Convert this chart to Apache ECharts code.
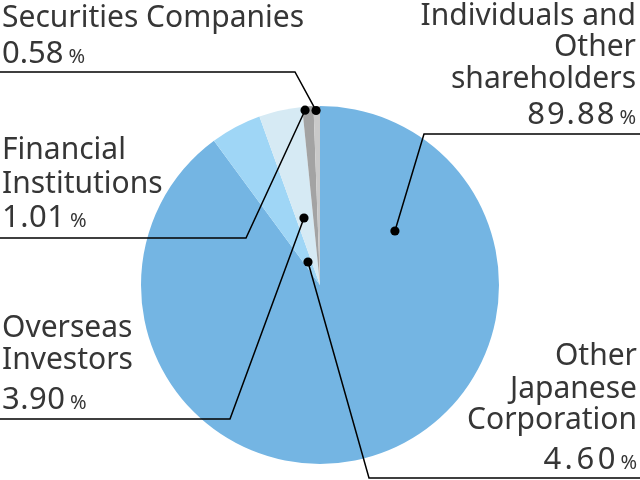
<!DOCTYPE html>
<html><head><meta charset="utf-8">
<script src="https://cdn.jsdelivr.net/npm/echarts@6/dist/echarts.min.js"></script>
<style>html,body{margin:0;padding:0;background:#fff}#c{width:640px;height:480px}</style>
</head><body><div id="c"></div>
<script>
// ---- data ----
const categories = ['Individuals and Other shareholders', 'Other Japanese Corporation', 'Overseas Investors', 'Financial Institutions', 'Securities Companies'];
const shares = [89.88, 4.60, 3.90, 1.01, 0.58];
const labelLines = [['Individuals and', 'Other', 'shareholders'], ['Other', 'Japanese', 'Corporation'], ['Overseas', 'Investors'], ['Financial', 'Institutions'], ['Securities Companies']];
const valueLabels = ['89.88', '4.60', '3.90', '1.01', '0.58'];

// ---- styles ----
const sliceColors = ['#74b5e3', '#9fd6f6', '#d6eaf4', '#a3a3a3', '#c9c9c9'];
const CX = 320, CY = 285, R = 179;
const FONT_FAMILY = '"Noto Sans", "Open Sans", sans-serif';
const NAME_SIZE = 30, NUM_SIZE = 31, PCT_SIZE = 20, TEXT_COLOR = '#363636';
const MID = 0.30;
// annotation layout (per category, same order)
const ann = [
  { side: 'right', knee: [424, 134], endX: 640, angFrac: 0.1675, rFrac: 0.516, textX: 636, baselines: [25, 56, 88], numBaseline: 124, ls: 2 },
  { side: 'right', knee: [369, 478], endX: 640, angFrac: 0.53, rFrac: 0.145, textX: 637, baselines: [365, 398, 429], numBaseline: 469, ls: 3.5 },
  { side: 'left', knee: [230, 419], endX: 0, angFrac: 0.45, rFrac: 0.385, textX: 2, baselines: [337, 369], numBaseline: 409, ls: 0.5 },
  { side: 'left', knee: [246, 238], endX: 0, angFrac: 0.23, rFrac: 0.98, textX: 2, baselines: [159, 193], numBaseline: 227, ls: 0.5 },
  { side: 'left', knee: [295, 72], endX: 0, angFrac: 0.38, rFrac: 0.975, textX: 2, baselines: [27], numBaseline: 63, ls: 0 }
];

const chart = echarts.init(document.getElementById('c'), null, { renderer: 'canvas' });
chart.setOption({
  animation: false,
  backgroundColor: '#ffffff',
  series: [{
    type: 'pie',
    center: [CX, CY],
    radius: R,
    startAngle: 90,
    clockwise: true,
    avoidLabelOverlap: false,
    silent: true,
    label: { show: false },
    labelLine: { show: false },
    itemStyle: { borderWidth: 0 },
    emphasis: { disabled: true },
    data: categories.map((n, i) => ({ name: n, value: shares[i], itemStyle: { color: sliceColors[i] } }))
  }]
});

// measure helper
const mctx = document.createElement('canvas').getContext('2d');
function textW(t, size) { mctx.font = size + 'px ' + FONT_FAMILY; return mctx.measureText(t).width; }

function sliceLayout(i) {
  try {
    const l = chart.getModel().getSeriesByIndex(0).getData().getItemLayout(i);
    if (l && isFinite(l.startAngle)) return l;
  } catch (e) {}
  const sum = shares.reduce((a, b) => a + b, 0);
  let s = -Math.PI / 2;
  for (let k = 0; k < i; k++) s += shares[k] / sum * Math.PI * 2;
  return { cx: CX, cy: CY, r: R, startAngle: s, endAngle: s + shares[i] / sum * Math.PI * 2 };
}

const els = [];
ann.forEach((a, i) => {
  const l = sliceLayout(i);
  const ang = l.startAngle + (l.endAngle - l.startAngle) * a.angFrac;
  const dot = [l.cx + l.r * a.rFrac * Math.cos(ang), l.cy + l.r * a.rFrac * Math.sin(ang)];
  els.push({ type: 'polyline', z: 10, shape: { points: [[a.endX, a.knee[1]], a.knee, dot] }, style: { stroke: '#000', lineWidth: 1.5, fill: null } });
  els.push({ type: 'circle', z: 11, shape: { cx: dot[0], cy: dot[1], r: 4.6 }, style: { fill: '#000' } });
  labelLines[i].forEach((t, j) => {
    els.push({ type: 'text', z: 12, style: { text: t, x: a.textX, y: a.baselines[j] - NAME_SIZE * MID, font: NAME_SIZE + 'px ' + FONT_FAMILY, fill: TEXT_COLOR, align: a.side === 'right' ? 'right' : 'left', verticalAlign: 'middle' } });
  });
  // number + percent
  const num = valueLabels[i];
  const chars = num.split('');
  const cw = chars.map(c => textW(c, NUM_SIZE));
  const numW = cw.reduce((s, w) => s + w, 0) + a.ls * (chars.length - 1);
  const pctW = textW('%', PCT_SIZE);
  const gap = 5;
  let x0 = a.side === 'right' ? a.textX - pctW - gap - numW : a.textX;
  chars.forEach((c, k) => {
    els.push({ type: 'text', z: 12, style: { text: c, x: x0, y: a.numBaseline - NUM_SIZE * MID, font: NUM_SIZE + 'px ' + FONT_FAMILY, fill: TEXT_COLOR, align: 'left', verticalAlign: 'middle' } });
    x0 += cw[k] + a.ls;
  });
  x0 += gap - a.ls;
  els.push({ type: 'text', z: 12, style: { text: '%', x: x0, y: a.numBaseline - PCT_SIZE * MID, font: PCT_SIZE + 'px ' + FONT_FAMILY, fill: TEXT_COLOR, align: 'left', verticalAlign: 'middle' } });
});
chart.setOption({ graphic: { elements: els } });
</script>
</body></html>
